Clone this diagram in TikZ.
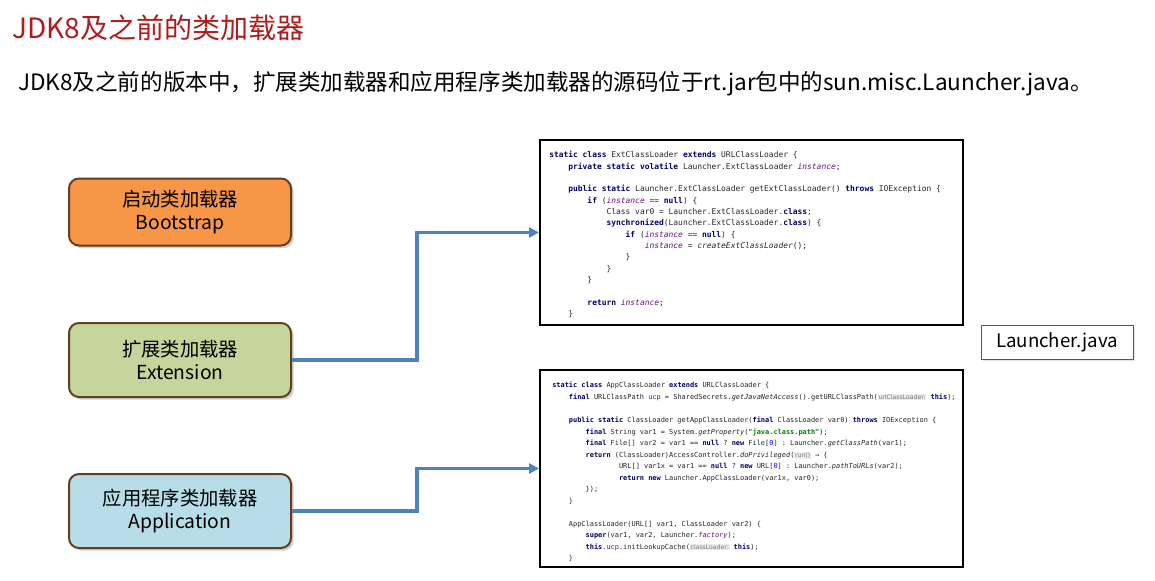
\documentclass[tikz,border=0pt]{standalone}
\usepackage{fontspec}
\setmainfont{Noto Sans CJK SC}
\setmonofont{DejaVu Sans Mono}
\newfontfamily\jhintfont{DejaVu Sans}
\usetikzlibrary{arrows.meta,shadows}
\definecolor{titlered}{RGB}{176,28,28}
\definecolor{bootc}{RGB}{247,150,70}
\definecolor{extc}{RGB}{196,214,155}
\definecolor{appc}{RGB}{183,221,232}
\definecolor{boxborder}{RGB}{100,62,30}
\definecolor{connblue}{RGB}{79,129,189}
\definecolor{kwc}{RGB}{0,0,110}
\definecolor{fldc}{RGB}{102,14,122}
\definecolor{strc}{RGB}{0,128,0}
\definecolor{numc}{RGB}{0,0,255}
\definecolor{hintc}{RGB}{120,120,120}
\definecolor{hintbg}{RGB}{236,236,236}
\newcommand\kwd[1]{\textbf{\textcolor{kwc}{#1}}}
\newcommand\fld[1]{\textit{\textcolor{fldc}{#1}}}
\newcommand\fldn[1]{\textcolor{fldc}{#1}}
\newcommand\smeth[1]{\textit{#1}}
\newcommand\jstr[1]{\textbf{\textcolor{strc}{#1}}}
\newcommand\jnum[1]{\textcolor{numc}{#1}}
\newcommand\jhint[1]{{\setlength{\fboxsep}{0.5pt}\colorbox{hintbg}{\jhintfont\fontsize{4.6}{5}\selectfont\textcolor{hintc}{#1}}}}
\newcommand\jind[1]{\hspace*{\dimexpr2.408em*#1\relax}}
\tikzset{
  loader/.style={draw=boxborder, line width=1.5pt, rounded corners=7.5pt,
    minimum width=166.5pt, align=center, inner sep=2pt,
    font=\fontsize{14.5}{17.5}\selectfont,
    drop shadow={shadow xshift=2pt, shadow yshift=-2pt, opacity=0.3, fill=black!60}},
  codebox/.style={draw=black, line width=1.5pt, fill=white, minimum width=317.25pt, anchor=north west, inner sep=0pt},
  codetext/.style={anchor=north west, align=left, inner sep=0pt, text=black!85},
  conn/.style={draw=connblue, line width=2.3pt, -{Triangle[length=7.5pt,width=7.5pt]}},
  filebox/.style={draw=black!65, line width=0.75pt, fill=white, minimum width=114pt, minimum height=25.5pt,
    font=\fontsize{14}{16}\selectfont,
    drop shadow={shadow xshift=1.5pt, shadow yshift=-1.5pt, opacity=0.2, fill=black!50}}
}
\begin{document}
\begin{tikzpicture}[x=0.75pt,y=-0.75pt]
\fill[white] (0,0) rectangle (1155,581);
\useasboundingbox (0,0) rectangle (1155,581);

\node[anchor=base west, inner sep=0pt, font=\fontsize{21}{25}\selectfont, text=titlered] (title) at (12,39) {JDK8及之前的类加载器};
\node[anchor=base west, inner sep=0pt, font=\fontsize{16.9}{20}\selectfont] (sub) at (18,91) {JDK8及之前的版本中，扩展类加载器和应用程序类加载器的源码位于rt.jar包中的sun.misc.Launcher.java。};

\node[loader, fill=bootc, minimum height=50.25pt] (boot) at (180,212) {启动类加载器\\Bootstrap};
\node[loader, fill=extc, minimum height=55.5pt] (ext) at (180,360) {扩展类加载器\\Extension};
\node[loader, fill=appc, minimum height=55.5pt] (app) at (180,511) {应用程序类加载器\\Application};

\node[codebox, minimum height=138.75pt] (code1) at (539,139) {};
\node[codebox, minimum height=147.75pt] (code2) at (539,369) {};

\node[codetext, font=\ttfamily\fontsize{5.95}{8.52}\selectfont] (c1text) at (549,151) {%
\kwd{static class} ExtClassLoader \kwd{extends} URLClassLoader \{\\
\jind{1}\kwd{private static volatile} Launcher.ExtClassLoader \fld{instance};\\
\mbox{}\\
\jind{1}\kwd{public static} Launcher.ExtClassLoader getExtClassLoader() \kwd{throws} IOException \{\\
\jind{2}\kwd{if} (\fld{instance} == \kwd{null}) \{\\
\jind{3}Class var0 = Launcher.ExtClassLoader.\kwd{class};\\
\jind{3}\kwd{synchronized}(Launcher.ExtClassLoader.\kwd{class}) \{\\
\jind{4}\kwd{if} (\fld{instance} == \kwd{null}) \{\\
\jind{5}\fld{instance} = \smeth{createExtClassLoader}();\\
\jind{4}\}\\
\jind{3}\}\\
\jind{2}\}\\
\mbox{}\\
\jind{2}\kwd{return} \fld{instance};\\
\jind{1}\}};

\node[codetext, font=\ttfamily\fontsize{5.2}{8.65}\selectfont] (c2text) at (552,382) {%
\kwd{static class} AppClassLoader \kwd{extends} URLClassLoader \{\\
\jind{1}\kwd{final} URLClassPath \fldn{ucp} = SharedSecrets.\smeth{getJavaNetAccess}().getURLClassPath(\jhint{urlClassLoader:} \kwd{this});\\
\mbox{}\\
\jind{1}\kwd{public static} ClassLoader getAppClassLoader(\kwd{final} ClassLoader var0) \kwd{throws} IOException \{\\
\jind{2}\kwd{final} String var1 = System.\smeth{getProperty}(\jstr{"java.class.path"});\\
\jind{2}\kwd{final} File[] var2 = var1 == \kwd{null} ? \kwd{new} File[\jnum{0}] : Launcher.\smeth{getClassPath}(var1);\\
\jind{2}\kwd{return} (ClassLoader)AccessController.\smeth{doPrivileged}(\jhint{run()} → \{\\
\jind{4}URL[] var1x = var1 == \kwd{null} ? \kwd{new} URL[\jnum{0}] : Launcher.\smeth{pathToURLs}(var2);\\
\jind{4}\kwd{return new} Launcher.AppClassLoader(var1x, var0);\\
\jind{2}\});\\
\jind{1}\}\\
\mbox{}\\
\jind{1}AppClassLoader(URL[] var1, ClassLoader var2) \{\\
\jind{2}\kwd{super}(var1, var2, Launcher.\fld{factory});\\
\jind{2}\kwd{this}.\fldn{ucp}.initLookupCache(\jhint{classLoader:} \kwd{this});\\
\jind{1}\}};

\node[filebox] (launcher) at (1057,342) {Launcher.java};

\draw[conn] (ext.east) -- ++(125,0) |- (code1.west);
\draw[conn] (app.east) -- ++(125,0) |- (code2.west);
\end{tikzpicture}
\end{document}
